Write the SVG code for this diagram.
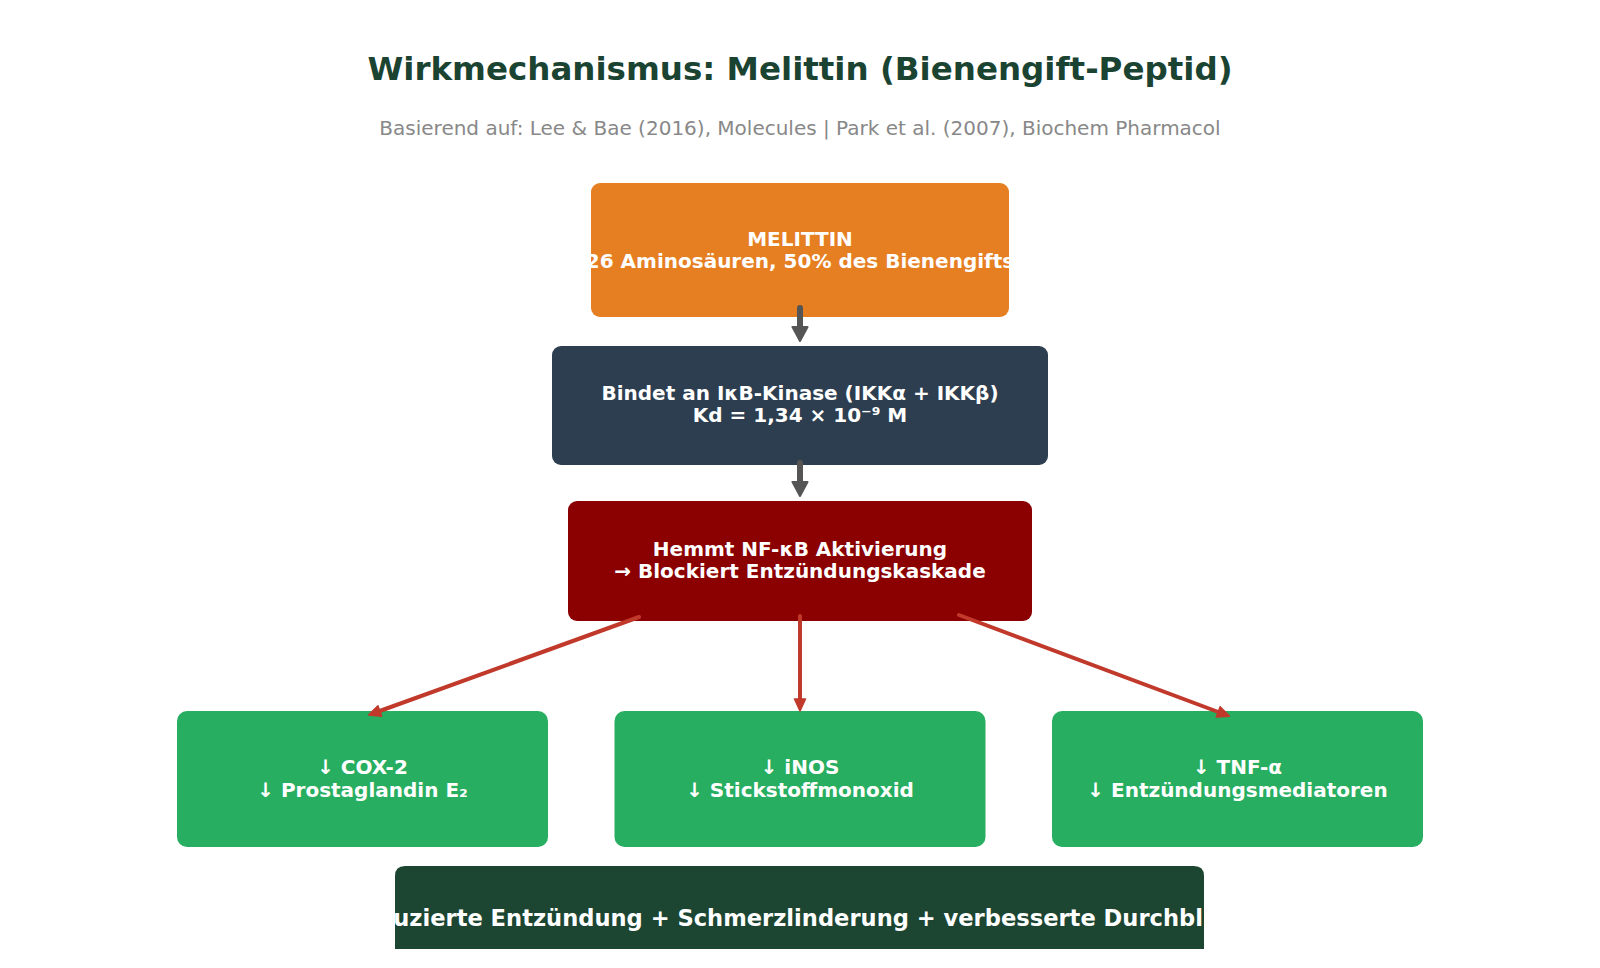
<svg xmlns="http://www.w3.org/2000/svg" width="1600" height="968" viewBox="0 0 1600 968">
<style>
.t{font-family:"DejaVu Sans","Liberation Sans",sans-serif;font-weight:bold;fill:#fff;text-anchor:middle}
.title{font-family:"DejaVu Sans","Liberation Sans",sans-serif;font-weight:bold;fill:#1b4332;text-anchor:middle;font-size:32.5px}
.sub{font-family:"DejaVu Sans","Liberation Sans",sans-serif;fill:#888;text-anchor:middle;font-size:20px}
.gray{stroke:#555;stroke-width:6;stroke-linecap:round;fill:none}
.red{stroke:#c0392b;stroke-width:4;stroke-linecap:round;fill:none}
</style>
<defs>
<marker id="hg" markerUnits="userSpaceOnUse" viewBox="0 0 16 18" markerWidth="16" markerHeight="18" refX="2" refY="9" orient="auto">
<path d="M1,1.5 L15,9 L1,16.5 Z" fill="#555" stroke="#555" stroke-width="2" stroke-linejoin="round"/>
</marker>
<marker id="hr" markerUnits="userSpaceOnUse" viewBox="0 0 14 14" markerWidth="14" markerHeight="14" refX="4" refY="7" orient="auto">
<path d="M1,1.5 L13,7 L1,12.5 Z" fill="#c0392b" stroke="#c0392b" stroke-width="1.5" stroke-linejoin="round"/>
</marker>
<clipPath id="c1"><rect x="591" y="183" width="418" height="134" rx="9"/></clipPath>
<clipPath id="c7"><rect x="395" y="866" width="809" height="83"/></clipPath>
</defs>
<rect width="1600" height="968" fill="#fff"/>
<text class="title" x="800" y="80">Wirkmechanismus: Melittin (Bienengift-Peptid)</text>
<text class="sub" x="800" y="135">Basierend auf: Lee &amp; Bae (2016), Molecules | Park et al. (2007), Biochem Pharmacol</text>

<g id="n1">
<rect x="591" y="183" width="418" height="134" rx="9" fill="#e67e22"/>
<g clip-path="url(#c1)">
<text class="t" x="800" y="246" font-size="20">MELITTIN</text>
<text class="t" x="800" y="268" font-size="20">26 Aminosäuren, 50% des Bienengifts</text>
</g>
</g>
<g id="n2">
<rect x="552" y="346" width="496" height="119" rx="9" fill="#2c3e50"/>
<text class="t" x="800" y="400" font-size="20">Bindet an IκB-Kinase (IKKα + IKKβ)</text>
<text class="t" x="800" y="422" font-size="20">Kd = 1,34 × 10⁻⁹ M</text>
</g>
<g id="n3">
<rect x="568" y="501" width="464" height="120" rx="9" fill="#8b0000"/>
<text class="t" x="800" y="556" font-size="20">Hemmt NF-κB Aktivierung</text>
<text class="t" x="800" y="578" font-size="20">→ Blockiert Entzündungskaskade</text>
</g>
<g id="n4">
<rect x="177" y="711" width="371" height="136" rx="10" fill="#27ae60"/>
<text class="t" x="362.5" y="774" font-size="20">↓ COX-2</text>
<text class="t" x="362.5" y="797" font-size="20">↓ Prostaglandin E₂</text>
</g>
<g id="n5">
<rect x="614.5" y="711" width="371" height="136" rx="10" fill="#27ae60"/>
<text class="t" x="800" y="774" font-size="20">↓ iNOS</text>
<text class="t" x="800" y="797" font-size="20">↓ Stickstoffmonoxid</text>
</g>
<g id="n6">
<rect x="1052" y="711" width="371" height="136" rx="10" fill="#27ae60"/>
<text class="t" x="1237.5" y="774" font-size="20">↓ TNF-α</text>
<text class="t" x="1237.5" y="797" font-size="20">↓ Entzündungsmediatoren</text>
</g>
<g id="n7">
<path d="M395,949 V876 Q395,866 405,866 H1194 Q1204,866 1204,876 V949 Z" fill="#1c4532"/>
<g clip-path="url(#c7)">
<text class="t" x="1203" y="926" font-size="22.6" style="text-anchor:end">uzierte Entzündung + Schmerzlinderung + verbesserte Durchbl</text>
</g>
</g>

<g id="connectors">
<line class="gray" x1="800" y1="308" x2="800" y2="328" marker-end="url(#hg)"/>
<line class="gray" x1="800" y1="463" x2="800" y2="483" marker-end="url(#hg)"/>
<line class="red" x1="639" y1="617" x2="377" y2="712" marker-end="url(#hr)"/>
<line class="red" x1="800" y1="616" x2="800" y2="702" marker-end="url(#hr)"/>
<line class="red" x1="959" y1="615" x2="1221" y2="713" marker-end="url(#hr)"/>
</g>
</svg>
